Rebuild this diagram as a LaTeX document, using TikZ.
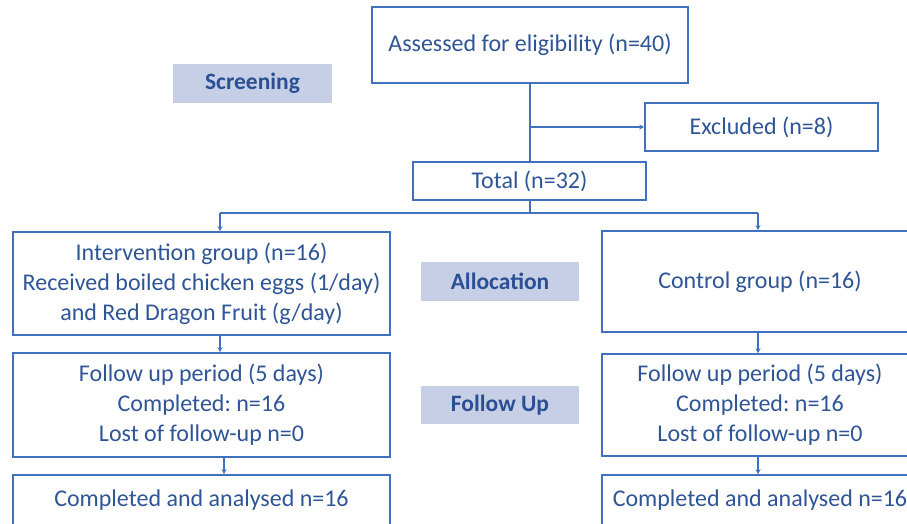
\documentclass[tikz,border=0pt]{standalone}
\usepackage{fontspec}
\setmainfont{Carlito}
\frenchspacing
\usetikzlibrary{arrows.meta}
\definecolor{bordc}{HTML}{4070BE}
\definecolor{txtc}{HTML}{2F5597}
\definecolor{labfill}{HTML}{C6CFE5}
\definecolor{labtxt}{HTML}{2B4F94}
\tikzset{
  flowbox/.style={draw=bordc, line width=1.6pt, fill=white, text=txtc, align=center,
    inner sep=0pt, font=\fontsize{24}{30}\selectfont},
  phaselabel/.style={fill=labfill, text=labtxt, inner sep=0pt,
    font=\fontsize{23.5}{28}\selectfont\bfseries},
  conn/.style={draw=bordc, line width=1.6pt},
  arr/.style={conn, -{Stealth[length=5pt,width=5pt]}}
}
\begin{document}
\begin{tikzpicture}[x=1pt,y=-1pt]
\useasboundingbox (0,0) rectangle (907,523);
% boxes
\node[flowbox, minimum width=316, minimum height=76] (assess) at (530,45) {Assessed for eligibility (n=40)};
\node[flowbox, minimum width=233, minimum height=48] (excl) at (761.5,127) {Excluded (n=8)};
\node[flowbox, minimum width=233, minimum height=38] (total) at (529.5,181) {Total (n=32)};
\node[flowbox, minimum width=377, minimum height=103] (interv) at (201.5,283.5) {Intervention group (n=16)\\Received boiled chicken eggs (1/day)\\and Red Dragon Fruit (g/day)};
\node[flowbox, minimum width=316, minimum height=101] (ctrl) at (760,281.5) {Control group (n=16)};
\node[flowbox, minimum width=377, minimum height=104] (folL) at (201.5,405) {Follow up period (5 days)\\Completed: n=16\\Lost of follow-up n=0};
\node[flowbox, minimum width=316, minimum height=102] (folR) at (760,405) {Follow up period (5 days)\\Completed: n=16\\Lost of follow-up n=0};
\node[flowbox, minimum width=377, minimum height=50] (compL) at (201.5,500) {Completed and analysed n=16};
\node[flowbox, minimum width=316, minimum height=50] (compR) at (760,500) {Completed and analysed n=16};
% phase labels
\node[phaselabel, minimum width=159, minimum height=39] (screen) at (252.5,83.5) {Screening};
\node[phaselabel, minimum width=158, minimum height=39] (alloc) at (500,281.5) {Allocation};
\node[phaselabel, minimum width=158, minimum height=38] (follow) at (500,405) {Follow Up};
% connectors
\coordinate (branch) at (530,127);
\coordinate (split) at (530,213);
\coordinate (splitL) at (220,213);
\coordinate (splitR) at (758,213);
\draw[conn] (assess.south -| branch) -- (total.north -| branch);
\draw[arr] (branch) -- (excl.west);
\draw[conn] (total.south -| split) -- (split);
\draw[conn] (splitL) -- (splitR);
\draw[arr] (splitL) -- (splitL |- interv.north);
\draw[arr] (splitR) -- (splitR |- ctrl.north);
\coordinate (aL1) at (220,0);
\coordinate (aL2) at (224,0);
\coordinate (aR) at (758,0);
\draw[arr] (aL1 |- interv.south) -- (aL1 |- folL.north);
\draw[arr] (aL2 |- folL.south) -- (aL2 |- compL.north);
\draw[arr] (aR |- ctrl.south) -- (aR |- folR.north);
\draw[arr] (aR |- folR.south) -- (aR |- compR.north);
\end{tikzpicture}
\end{document}
